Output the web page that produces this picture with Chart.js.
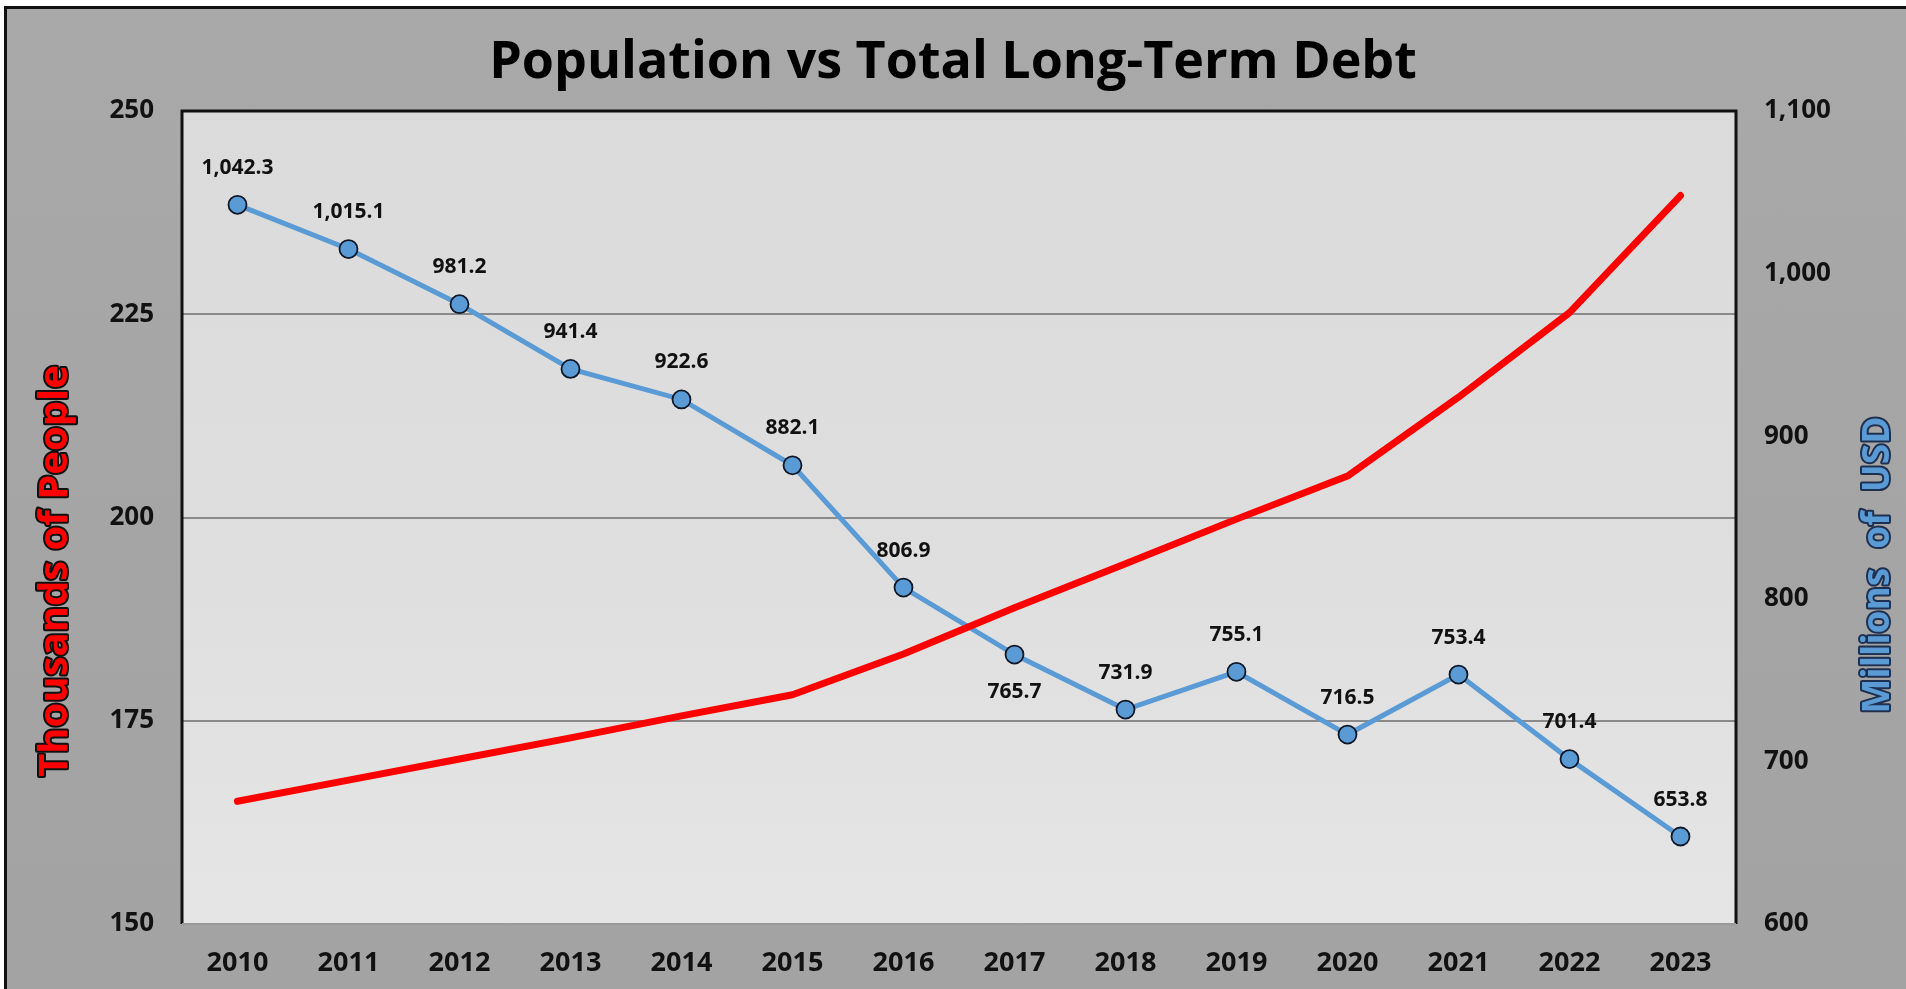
<!DOCTYPE html>
<html>
<head>
<meta charset="utf-8">
<script src="https://cdn.jsdelivr.net/npm/chart.js@4.4.1/dist/chart.umd.min.js"></script>
<style>
html,body{margin:0;padding:0;background:#fff;width:1906px;height:989px;overflow:hidden;}
#panel{position:absolute;left:4px;top:6px;width:1902px;height:1000px;border-left:3px solid #111;border-top:3px solid #111;
  background:linear-gradient(180deg,#a9a9a9 0%,#a5a5a5 50%,#a3a3a3 100%);}
#wrap{position:absolute;left:0;top:0;width:1906px;height:989px;}
</style>
</head>
<body>
<div id="panel"></div>
<div id="wrap"><canvas id="c"></canvas></div>
<script>
'use strict';
const years=['2010','2011','2012','2013','2014','2015','2016','2017','2018','2019','2020','2021','2022','2023'];
const population=[165.1,167.7,170.3,172.9,175.6,178.2,183.2,188.9,194.3,199.8,205.1,214.8,225.2,239.6];
const debt=[1042.3,1015.1,981.2,941.4,922.6,882.1,806.9,765.7,731.9,755.1,716.5,753.4,701.4,653.8];
const labelBelow=[false,false,false,false,false,false,false,true,false,false,false,false,false,false];

const FONT='"Open Sans", "DejaVu Sans", sans-serif';
const fmt=v=>v.toLocaleString('en-US',{minimumFractionDigits:1,maximumFractionDigits:1});

// plot area: light background + black frame (left/top/right)
const plotFrame={
  id:'plotFrame',
  beforeDraw(ch){
    const {ctx,chartArea:a}=ch;
    ctx.save();
    const g=ctx.createLinearGradient(0,a.top,0,a.bottom);
    g.addColorStop(0,'#dbdbdb'); g.addColorStop(0.5,'#dedede'); g.addColorStop(1,'#e5e5e5');
    ctx.fillStyle=g; ctx.fillRect(a.left,a.top,a.right-a.left,a.bottom-a.top);
    ctx.restore();
  },
  afterDraw(ch){
    const {ctx,chartArea:a}=ch;
    ctx.save();
    ctx.strokeStyle='#111'; ctx.lineWidth=3;
    ctx.beginPath(); ctx.moveTo(a.left,a.bottom); ctx.lineTo(a.left,a.top); ctx.lineTo(a.right,a.top); ctx.lineTo(a.right,a.bottom); ctx.stroke();
    ctx.strokeStyle='#9a9a9a'; ctx.lineWidth=2;
    ctx.beginPath(); ctx.moveTo(a.left,a.bottom); ctx.lineTo(a.right,a.bottom); ctx.stroke();
    // axis titles, outlined text
    ctx.textAlign='center'; ctx.textBaseline='middle'; ctx.lineJoin='round';
    ctx.save(); ctx.translate(56,571); ctx.rotate(-Math.PI/2);
    ctx.font='bold 40px '+FONT;
    ctx.lineWidth=4; ctx.strokeStyle='#111'; ctx.strokeText('Thousands of People',0,0);
    ctx.fillStyle='#ff0000'; ctx.fillText('Thousands of People',0,0);
    ctx.restore();
    ctx.save(); ctx.translate(1878,565); ctx.rotate(-Math.PI/2);
    ctx.font='bold 37px '+FONT;
    const t='Millions  of  USD';
    ctx.lineWidth=4; ctx.strokeStyle='#1f2f4f'; ctx.strokeText(t,0,0);
    ctx.fillStyle='#5b9bd5'; ctx.fillText(t,0,0);
    ctx.restore();
    ctx.restore();
  }
};

// data labels on the debt line
const valueLabels={
  id:'valueLabels',
  afterDatasetsDraw(ch){
    const meta=ch.getDatasetMeta(1), ctx=ch.ctx;
    ctx.save();
    ctx.font='bold 21px '+FONT; ctx.fillStyle='#111'; ctx.textAlign='center'; ctx.textBaseline='middle';
    meta.data.forEach((p,i)=>{
      const dy=labelBelow[i]?37:-37;
      ctx.fillText(fmt(debt[i]),p.x,p.y+dy);
    });
    ctx.restore();
  }
};

new Chart(document.getElementById('c'),{
  type:'line',
  data:{labels:years,datasets:[
    {label:'Population',data:population,yAxisID:'y',borderColor:'#ff0000',borderWidth:7,pointRadius:0,tension:0,order:0,borderCapStyle:'round',borderJoinStyle:'round'},
    {label:'Total Long-Term Debt',data:debt,yAxisID:'y1',borderColor:'#5b9bd5',borderWidth:5,
     pointRadius:9,pointBackgroundColor:'#5b9bd5',pointBorderColor:'#101828',pointBorderWidth:1.8,tension:0,order:1}
  ]},
  options:{
    responsive:true,maintainAspectRatio:false,animation:false,
    layout:{padding:{top:0,left:0,right:0,bottom:0}},
    plugins:{
      legend:{display:false},tooltip:{enabled:false},
      title:{display:true,text:'Population vs Total Long-Term Debt',color:'#000',
        font:{family:FONT,size:52,weight:'bold',lineHeight:1.2},padding:{top:32,bottom:16.6}}
    },
    scales:{
      x:{offset:true,grid:{display:false,drawTicks:false},border:{display:false},
        ticks:{color:'#111',font:{family:FONT,size:27,weight:'bold'},padding:23,maxRotation:0},
        afterFit(s){s.height=65;}},
      y:{position:'left',min:150,max:250,
        ticks:{stepSize:25,color:'#111',font:{family:FONT,size:26,weight:'bold'},padding:28},
        grid:{drawTicks:false,color:c=>(c.tick.value===150||c.tick.value===250)?'rgba(0,0,0,0)':'#8a8a8a',lineWidth:2},
        border:{display:false},
        afterFit(s){s.width=182;}},
      y1:{position:'right',min:600,max:1100,
        ticks:{stepSize:100,color:'#111',font:{family:FONT,size:26,weight:'bold'},padding:28,
          callback:v=>v.toLocaleString('en-US')},
        grid:{display:false,drawTicks:false},border:{display:false},
        afterFit(s){s.width=170;}}
    }
  },
  plugins:[plotFrame,valueLabels]
});
</script>
</body>
</html>
